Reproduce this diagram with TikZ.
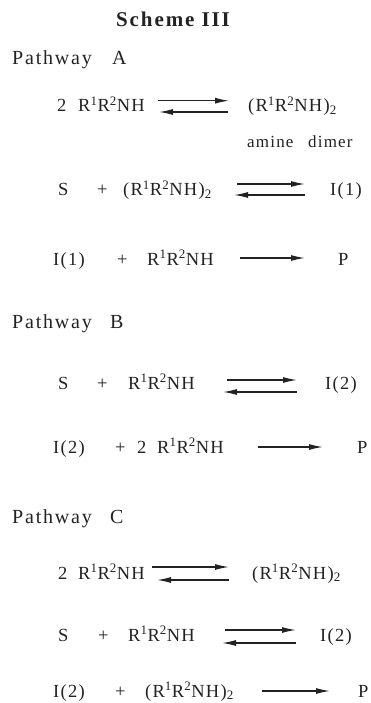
\documentclass[tikz,border=0pt]{standalone}
\usepackage{fontspec}
\usetikzlibrary{arrows.meta}
\setmainfont{Liberation Serif}
\newfontfamily\eqfont{Liberation Serif}[LetterSpace=7]
\newfontfamily\headfont{Liberation Serif}[LetterSpace=9]
\definecolor{ink}{HTML}{222222}
\newcommand\RRNH{R\textsuperscript{1}R\textsuperscript{2}NH}
\newcommand\RRdimer{(\RRNH)\textsubscript{2}}
\tikzset{
  txt/.style={anchor=base west, inner sep=0pt, text=ink,
              font={\eqfont\fontsize{18.5pt}{22pt}\selectfont}},
  small/.style={txt, font={\eqfont\fontsize{17pt}{20pt}\selectfont}},
  head/.style={txt, font={\headfont\fontsize{20pt}{24pt}\selectfont}},
  title/.style={txt, font={\headfont\bfseries\fontsize{21pt}{25pt}\selectfont}},
  rxn/.style={draw=ink, line width=1.3pt, -{Latex[length=14pt,width=6pt]}}
}
\begin{document}
\begin{tikzpicture}[x=1pt,y=-1pt]
\useasboundingbox (0,0) rectangle (370,703);

% heading
\node[title] (ttl) at (116,26.5) {Scheme III};

% ---------------- Pathway A ----------------
\node[head] (pA) at (12,65) {Pathway};
\node[head] (pAl) at (112,65) {A};

% 2 amine <=> dimer
\node[txt] (a1n) at (57,111.5) {2};
\node[txt] (a1r) at (78,111.5) {\RRNH};
\node[txt] (a1p) at (248,111.5) {\RRdimer};
\node[small] (a1am) at (247,148) {amine};
\node[small] (a1dm) at (308,148) {dimer};
\coordinate (a1u0) at (158,100.7); \coordinate (a1u1) at (229,100.7);
\coordinate (a1l0) at (159,112);   \coordinate (a1l1) at (228,112);
\draw[rxn] (a1u0) -- (a1u1);
\draw[rxn] (a1l1) -- (a1l0);

% S + dimer <=> I(1)
\node[txt] (a2s) at (58,196) {S};
\node[txt] (a2pl) at (97,196) {+};
\node[txt] (a2d) at (123,196) {\RRdimer};
\node[txt] (a2i) at (330,196) {I(1)};
\coordinate (a2u0) at (237,184); \coordinate (a2u1) at (305,184);
\coordinate (a2l0) at (234,195); \coordinate (a2l1) at (305,195);
\draw[rxn] (a2u0) -- (a2u1);
\draw[rxn] (a2l1) -- (a2l0);

% I(1) + amine -> P
\node[txt] (a3i) at (53,265) {I(1)};
\node[txt] (a3pl) at (117,265) {+};
\node[txt] (a3r) at (147,265) {\RRNH};
\node[txt] (a3p) at (338,265) {P};
\coordinate (a3a0) at (240,258); \coordinate (a3a1) at (305,258);
\draw[rxn] (a3a0) -- (a3a1);

% ---------------- Pathway B ----------------
\node[head] (pB) at (12,328) {Pathway};
\node[head] (pBl) at (110,328) {B};

% S + amine <=> I(2)
\node[txt] (b1s) at (58,389) {S};
\node[txt] (b1pl) at (97,389) {+};
\node[txt] (b1r) at (128,389) {\RRNH};
\node[txt] (b1i) at (325,389) {I(2)};
\coordinate (b1u0) at (227,380); \coordinate (b1u1) at (297,380);
\coordinate (b1l0) at (223,392); \coordinate (b1l1) at (297,392);
\draw[rxn] (b1u0) -- (b1u1);
\draw[rxn] (b1l1) -- (b1l0);

% I(2) + 2 amine -> P
\node[txt] (b2i) at (53,453) {I(2)};
\node[txt] (b2pl) at (115,453) {+};
\node[txt] (b2n) at (137,453) {2};
\node[txt] (b2r) at (157,453) {\RRNH};
\node[txt] (b2p) at (357,453) {P};
\coordinate (b2a0) at (258,447); \coordinate (b2a1) at (323,447);
\draw[rxn] (b2a0) -- (b2a1);

% ---------------- Pathway C ----------------
\node[head] (pC) at (12,523) {Pathway};
\node[head] (pCl) at (110,523) {C};

% 2 amine <=> dimer
\node[txt] (c1n) at (58,579) {2};
\node[txt] (c1r) at (78,579) {\RRNH};
\node[txt] (c1p) at (252,579) {\RRdimer};
\coordinate (c1u0) at (152,567); \coordinate (c1u1) at (229,567);
\coordinate (c1l0) at (157,580); \coordinate (c1l1) at (229,580);
\draw[rxn] (c1u0) -- (c1u1);
\draw[rxn] (c1l1) -- (c1l0);

% S + amine <=> I(2)
\node[txt] (c2s) at (58,641) {S};
\node[txt] (c2pl) at (98,641) {+};
\node[txt] (c2r) at (128,641) {\RRNH};
\node[txt] (c2i) at (320,641) {I(2)};
\coordinate (c2u0) at (225,630); \coordinate (c2u1) at (296,630);
\coordinate (c2l0) at (222,643); \coordinate (c2l1) at (296,643);
\draw[rxn] (c2u0) -- (c2u1);
\draw[rxn] (c2l1) -- (c2l0);

% I(2) + dimer -> P
\node[txt] (c3i) at (53,697) {I(2)};
\node[txt] (c3pl) at (115,697) {+};
\node[txt] (c3d) at (145,697) {\RRdimer};
\node[txt] (c3p) at (358,697) {P};
\coordinate (c3a0) at (262,691); \coordinate (c3a1) at (330,691);
\draw[rxn] (c3a0) -- (c3a1);
\end{tikzpicture}
\end{document}
